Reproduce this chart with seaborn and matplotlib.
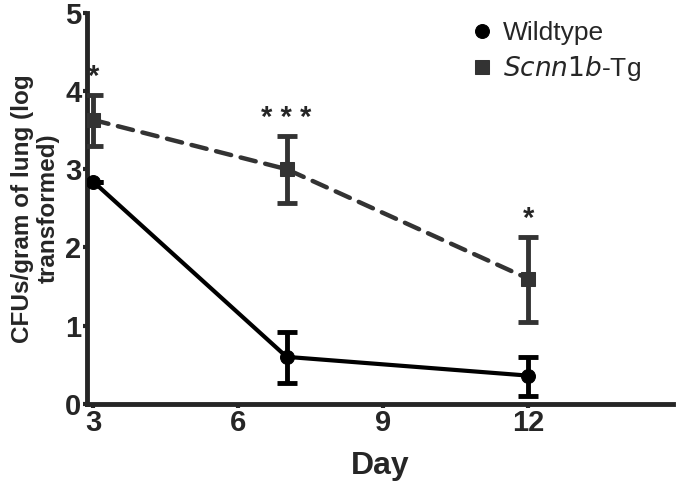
import matplotlib
matplotlib.use("Agg")
import matplotlib.pyplot as plt
import seaborn as sns
import pandas as pd

days = [3, 7, 12]
wildtype = [2.84, 0.60, 0.36]
wildtype_lo = [2.84, 0.27, 0.10]
wildtype_hi = [2.84, 0.92, 0.60]
tg = [3.63, 3.00, 1.60]
tg_lo = [3.30, 2.57, 1.05]
tg_hi = [3.95, 3.43, 2.13]
stars = ["*", "* * *", "*"]
xticks = [3, 6, 9, 12]
yticks = [0, 1, 2, 3, 4, 5]

sns.set_style("ticks")
plt.rcParams['font.family'] = ['Liberation Sans', 'DejaVu Sans']

df = pd.DataFrame({
    "Day": days * 2,
    "CFU": wildtype + tg,
    "group": ["Wildtype"] * 3 + ["Scnn1b-Tg"] * 3,
})

fig = plt.figure(figsize=(6.8, 4.93), dpi=100)
ax = fig.add_axes([0.128, 0.181, 0.862, 0.793])

wt_col = "#000000"
tg_col = "#333333"

ax.errorbar(days, tg, yerr=[[t - l for t, l in zip(tg, tg_lo)], [h - t for t, h in zip(tg, tg_hi)]],
            fmt="none", ecolor=tg_col, elinewidth=3.5, capsize=7.5, capthick=3.5, zorder=3)
ax.errorbar(days, wildtype, yerr=[[t - l for t, l in zip(wildtype, wildtype_lo)], [h - t for t, h in zip(wildtype, wildtype_hi)]],
            fmt="none", ecolor=wt_col, elinewidth=3.5, capsize=7.5, capthick=3.5, zorder=3)

sub_wt = df[df.group == "Wildtype"]
sub_tg = df[df.group == "Scnn1b-Tg"]
sns.lineplot(data=sub_wt, x="Day", y="CFU", ax=ax, color=wt_col, lw=3,
             marker="o", markersize=10, markeredgecolor=wt_col, label="Wildtype", zorder=4)
sns.lineplot(data=sub_tg, x="Day", y="CFU", ax=ax, color=tg_col, lw=3.2, linestyle=(0, (3.5, 2.2)),
             dash_capstyle="round",
             marker="s", markersize=10, markeredgecolor=tg_col, label="$\\mathit{Scnn1b}$-Tg", zorder=4)

for d, h, s in zip(days, tg_hi, stars):
    ax.text(d, h + 0.05, s, ha="center", va="bottom", fontsize=21, fontweight="bold")

ax.set_xlim(2.87, 15.0)
ax.set_ylim(0, 5)
ax.set_xticks(xticks)
ax.set_yticks(yticks)
ax.set_xticklabels([str(t) for t in xticks], fontsize=21, fontweight="bold")
ax.set_yticklabels([str(t) for t in yticks], fontsize=21, fontweight="bold")
ax.tick_params(axis="both", width=3, length=3, direction="out", pad=1)
for side in ["left", "bottom"]:
    ax.spines[side].set_linewidth(3.5)
for side in ["top", "right"]:
    ax.spines[side].set_visible(False)

ax.set_xlabel("Day", fontsize=23, fontweight="bold", labelpad=10)
ax.set_ylabel("CFUs/gram of lung (log\ntransformed)", fontsize=17.5, fontweight="bold", labelpad=4,
              linespacing=1.15)

leg = ax.legend(loc="upper right", frameon=False, fontsize=19, handlelength=0.6,
                handletextpad=0.5, labelspacing=0.35, markerscale=1.0,
                bbox_to_anchor=(0.985, 1.04))
for h in leg.legend_handles:
    h.set_linestyle("none")

fig.savefig("out.png", dpi=100)
